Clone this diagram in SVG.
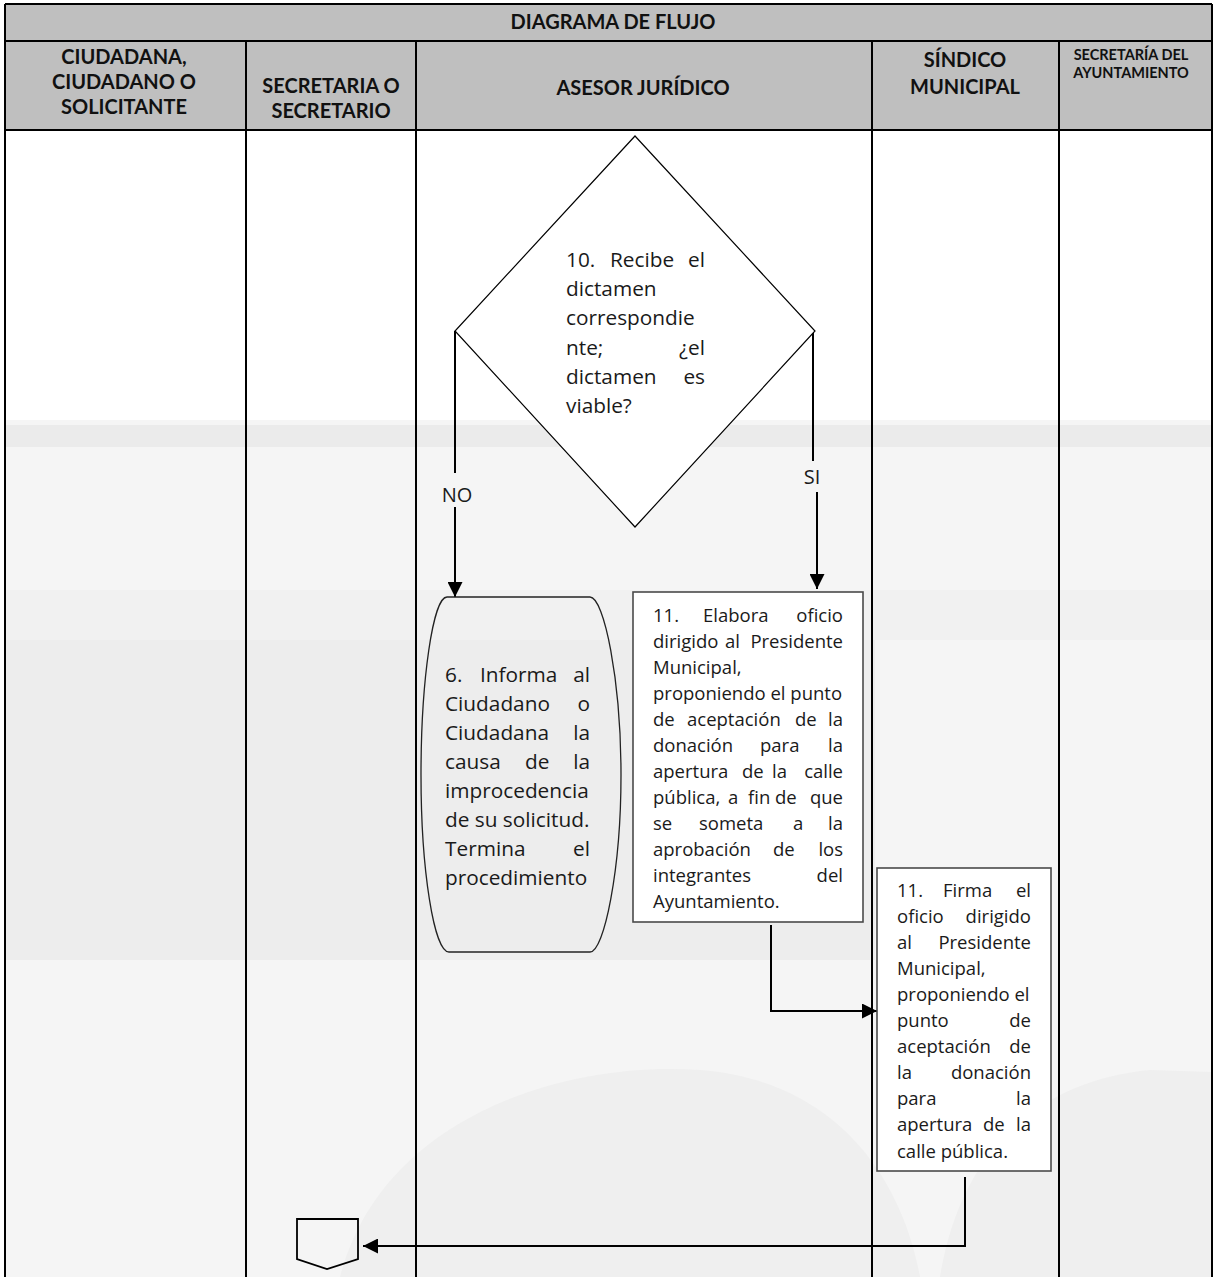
<svg xmlns="http://www.w3.org/2000/svg" width="1214" height="1277" viewBox="0 0 1214 1277">
<style>
.lane{stroke:#000;stroke-width:2;fill:none}
.hdrfill{fill:#bfbfbf}
.hdr{font-family:Lato,"Open Sans","Liberation Sans",sans-serif;font-weight:bold;font-size:20px;text-anchor:middle;fill:#111}
.hdrs{font-family:Lato,"Open Sans","Liberation Sans",sans-serif;font-weight:bold;font-size:14.5px;text-anchor:middle;fill:#111}
.tb{font-family:"Open Sans","Liberation Sans",sans-serif;font-size:20.8px;fill:#1a1a1a}
.ts{font-family:"Open Sans","Liberation Sans",sans-serif;font-size:18.5px;fill:#1a1a1a}
.lbl{font-family:"Open Sans","Liberation Sans",sans-serif;font-size:20px;fill:#1a1a1a;text-anchor:middle}
.conn{stroke:#000;stroke-width:2;fill:none}
.box{fill:#fff;stroke:#4a4a4a;stroke-width:1.6}
.e{text-anchor:end}
</style>
<defs>
<marker id="arr" viewBox="0 0 10 10" refX="10" refY="5" markerWidth="15" markerHeight="15" markerUnits="userSpaceOnUse" orient="auto"><path d="M0,0 L10,5 L0,10 z" fill="#000"/></marker>
</defs>
<rect x="0" y="0" width="1214" height="1277" fill="#fff"/>
<g id="background-watermark">
<rect x="5" y="420" width="1207" height="857" fill="#f5f5f5"/>
<rect x="5" y="425" width="1207" height="22" fill="#ebebeb"/>
<rect x="5" y="640" width="870" height="320" fill="#ededed"/>
<rect x="5" y="590" width="1207" height="50" fill="#f1f1f1"/>
<path d="M340,1277 C380,1120 560,1060 700,1070 C830,1080 900,1170 920,1277 Z" fill="#efefef"/>
<path d="M940,1277 C960,1150 1040,1080 1150,1070 L1212,1072 L1212,1277 Z" fill="#efefef"/>
</g>
<g id="table">
<rect class="hdrfill" x="5" y="4" width="1207" height="126"/>
<line class="lane" x1="5" y1="4" x2="1212" y2="4"/>
<line class="lane" x1="5" y1="41" x2="1212" y2="41"/>
<line class="lane" x1="5" y1="130" x2="1212" y2="130"/>
<line class="lane" x1="5" y1="4" x2="5" y2="1277"/>
<line class="lane" x1="1212" y1="4" x2="1212" y2="1277"/>
<line class="lane" x1="246" y1="41" x2="246" y2="1277"/>
<line class="lane" x1="416" y1="41" x2="416" y2="1277"/>
<line class="lane" x1="872" y1="41" x2="872" y2="1277"/>
<line class="lane" x1="1059" y1="41" x2="1059" y2="1277"/>
<text class="hdr" x="613" y="29">DIAGRAMA DE FLUJO</text>
<text class="hdr" x="124" y="64">CIUDADANA,</text>
<text class="hdr" x="124" y="89">CIUDADANO O</text>
<text class="hdr" x="124" y="114">SOLICITANTE</text>
<text class="hdr" x="331" y="93">SECRETARIA O</text>
<text class="hdr" x="331" y="118">SECRETARIO</text>
<text class="hdr" x="643" y="95">ASESOR JURÍDICO</text>
<text class="hdr" x="965" y="67">SÍNDICO</text>
<text class="hdr" x="965" y="94">MUNICIPAL</text>
<text class="hdrs" x="1131" y="60">SECRETARÍA DEL</text>
<text class="hdrs" x="1131" y="78">AYUNTAMIENTO</text>
</g>
<g id="connectors">
<line class="conn" x1="455" y1="331" x2="455" y2="473"/>
<line class="conn" x1="455" y1="507" x2="455" y2="597" marker-end="url(#arr)"/>
<text class="lbl" x="457" y="502">NO</text>
<line class="conn" x1="813" y1="331" x2="813" y2="461"/>
<line class="conn" x1="817" y1="492" x2="817" y2="589" marker-end="url(#arr)"/>
<text class="lbl" x="812" y="484">SI</text>
<polyline class="conn" points="771,925 771,1011 877,1011" marker-end="url(#arr)"/>
<polyline class="conn" points="965,1177 965,1246 363,1246" marker-end="url(#arr)"/>
</g>
<g id="node-10-decision">
<polygon points="635,136 815,331 635,527 455,331" fill="#fff" stroke="#000" stroke-width="1.2"/>
<text class="tb" y="267"><tspan x="566">10.</tspan><tspan x="610">Recibe</tspan><tspan x="705" class="e">el</tspan></text>
<text class="tb" y="296"><tspan x="566">dictamen</tspan></text>
<text class="tb" y="325"><tspan x="566">correspondie</tspan></text>
<text class="tb" y="355"><tspan x="566">nte;</tspan><tspan x="705" class="e">¿el</tspan></text>
<text class="tb" y="384"><tspan x="566">dictamen</tspan><tspan x="705" class="e">es</tspan></text>
<text class="tb" y="413"><tspan x="566">viable?</tspan></text>
</g>
<g id="node-6-terminal">
<path d="M447,597 H590 C604,597 621,680 621,775 C621,870 604,952 590,952 H449 C434,952 421,870 421,775 C421,680 433,597 447,597 Z" fill="none" stroke="#222" stroke-width="1.3"/>
<text class="tb" y="682"><tspan x="445">6.</tspan><tspan x="480">Informa</tspan><tspan x="590" class="e">al</tspan></text>
<text class="tb" y="711"><tspan x="445">Ciudadano</tspan><tspan x="590" class="e">o</tspan></text>
<text class="tb" y="740"><tspan x="445">Ciudadana</tspan><tspan x="590" class="e">la</tspan></text>
<text class="tb" y="769"><tspan x="445">causa</tspan><tspan x="525">de</tspan><tspan x="590" class="e">la</tspan></text>
<text class="tb" y="798"><tspan x="445">improcedencia</tspan></text>
<text class="tb" y="827"><tspan x="445">de su solicitud.</tspan></text>
<text class="tb" y="856"><tspan x="445">Termina</tspan><tspan x="590" class="e">el</tspan></text>
<text class="tb" y="885"><tspan x="445">procedimiento</tspan></text>
</g>
<g id="node-11-elabora">
<rect class="box" x="633" y="592" width="230" height="330"/>
<text class="ts" y="622"><tspan x="653">11.</tspan><tspan x="703">Elabora</tspan><tspan x="843" class="e">oficio</tspan></text>
<text class="ts" y="648"><tspan x="653">dirigido</tspan><tspan x="725">al</tspan><tspan x="843" class="e">Presidente</tspan></text>
<text class="ts" y="674"><tspan x="653">Municipal,</tspan></text>
<text class="ts" y="700"><tspan x="653">proponiendo el punto</tspan></text>
<text class="ts" y="726"><tspan x="653">de</tspan><tspan x="687">aceptación</tspan><tspan x="795">de</tspan><tspan x="843" class="e">la</tspan></text>
<text class="ts" y="752"><tspan x="653">donación</tspan><tspan x="760">para</tspan><tspan x="843" class="e">la</tspan></text>
<text class="ts" y="778"><tspan x="653">apertura</tspan><tspan x="742">de</tspan><tspan x="772">la</tspan><tspan x="843" class="e">calle</tspan></text>
<text class="ts" y="804"><tspan x="653">pública,</tspan><tspan x="728">a</tspan><tspan x="748">fin</tspan><tspan x="775">de</tspan><tspan x="843" class="e">que</tspan></text>
<text class="ts" y="830"><tspan x="653">se</tspan><tspan x="699">someta</tspan><tspan x="793">a</tspan><tspan x="843" class="e">la</tspan></text>
<text class="ts" y="856"><tspan x="653">aprobación</tspan><tspan x="773">de</tspan><tspan x="843" class="e">los</tspan></text>
<text class="ts" y="882"><tspan x="653">integrantes</tspan><tspan x="843" class="e">del</tspan></text>
<text class="ts" y="908"><tspan x="653">Ayuntamiento.</tspan></text>
</g>
<g id="node-11-firma">
<rect class="box" x="877" y="868" width="174" height="303"/>
<text class="ts" y="897"><tspan x="897">11.</tspan><tspan x="943">Firma</tspan><tspan x="1031" class="e">el</tspan></text>
<text class="ts" y="923"><tspan x="897">oficio</tspan><tspan x="1031" class="e">dirigido</tspan></text>
<text class="ts" y="949"><tspan x="897">al</tspan><tspan x="1031" class="e">Presidente</tspan></text>
<text class="ts" y="975"><tspan x="897">Municipal,</tspan></text>
<text class="ts" y="1001"><tspan x="897">proponiendo el</tspan></text>
<text class="ts" y="1027"><tspan x="897">punto</tspan><tspan x="1031" class="e">de</tspan></text>
<text class="ts" y="1053"><tspan x="897">aceptación</tspan><tspan x="1031" class="e">de</tspan></text>
<text class="ts" y="1079"><tspan x="897">la</tspan><tspan x="1031" class="e">donación</tspan></text>
<text class="ts" y="1105"><tspan x="897">para</tspan><tspan x="1031" class="e">la</tspan></text>
<text class="ts" y="1131"><tspan x="897">apertura</tspan><tspan x="983">de</tspan><tspan x="1031" class="e">la</tspan></text>
<text class="ts" y="1158"><tspan x="897">calle pública.</tspan></text>
</g>
<g id="node-offpage">
<polygon points="297,1219 358,1219 358,1259 327,1269 297,1259" fill="none" stroke="#000" stroke-width="1.8"/>
</g>
</svg>
